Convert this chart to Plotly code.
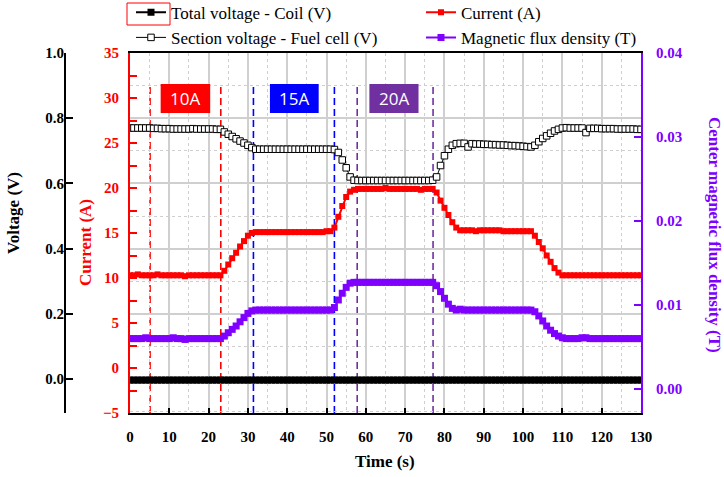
import plotly.graph_objects as go

# ---------------- data ----------------
TIME = list(range(0, 131))  # s, 1 s sampling

CURRENT = [
    10.3, 10.3, 10.4, 10.3, 10.3, 10.3, 10.3, 10.4, 10.3, 10.3, 10.3, 10.3, 10.3, 10.3, 10.2, 10.3, 10.3, 10.3, 10.3, 10.3, 10.3, 10.3, 10.3, 10.3,
    10.8, 11.5, 12.2, 12.8, 13.5, 14.1, 14.7, 15.0,
    15.1, 15.1, 15.1, 15.1, 15.1, 15.1, 15.1, 15.1, 15.1, 15.1, 15.1, 15.1, 15.1, 15.1, 15.1, 15.1, 15.1, 15.1, 15.2, 15.2,
    15.6, 16.8, 18.0, 19.0, 19.6, 19.8,
    19.9, 19.9, 19.9, 19.9, 19.9, 19.9, 19.9, 20.0, 19.9, 19.9, 19.9, 19.9, 19.9, 19.9, 19.9, 19.9, 19.8, 19.9, 19.9, 19.9,
    19.5, 18.6, 17.8, 17.0, 16.2, 15.6, 15.3,
    15.3, 15.3, 15.3, 15.2, 15.3, 15.3, 15.3, 15.3, 15.3, 15.3, 15.2, 15.2, 15.2, 15.2, 15.2, 15.2, 15.2, 15.2,
    14.7, 14.0, 13.3, 12.5, 11.8, 11.1, 10.6, 10.3,
    10.3, 10.3, 10.3, 10.3, 10.3, 10.3, 10.3, 10.3, 10.3, 10.3, 10.3, 10.3, 10.3, 10.3, 10.3, 10.3, 10.3, 10.3, 10.3, 10.3,
]

FLUX = [
    0.0060, 0.0060, 0.0060, 0.0060, 0.0061, 0.0060, 0.0060, 0.0060, 0.0060, 0.0060, 0.0060, 0.0061, 0.0060, 0.0060, 0.0059, 0.0060, 0.0060, 0.0060, 0.0060, 0.0060, 0.0060, 0.0060, 0.0060, 0.0060,
    0.0063, 0.0067, 0.0071, 0.0075, 0.0080, 0.0085, 0.0090, 0.0093,
    0.0094, 0.0094, 0.0094, 0.0094, 0.0094, 0.0094, 0.0094, 0.0094, 0.0094, 0.0094, 0.0094, 0.0094, 0.0094, 0.0094, 0.0094, 0.0094, 0.0094, 0.0094, 0.0094, 0.0094,
    0.0097, 0.0106, 0.0114, 0.0121, 0.0126,
    0.0127, 0.0127, 0.0127, 0.0127, 0.0127, 0.0127, 0.0127, 0.0127, 0.0127, 0.0127, 0.0127, 0.0127, 0.0127, 0.0127, 0.0127, 0.0127, 0.0127, 0.0127, 0.0127, 0.0127, 0.0127,
    0.0123, 0.0116, 0.0108, 0.0101, 0.0096, 0.0094,
    0.0095, 0.0094, 0.0094, 0.0094, 0.0094, 0.0094, 0.0094, 0.0094, 0.0094, 0.0094, 0.0094, 0.0094, 0.0094, 0.0094, 0.0094, 0.0094, 0.0094, 0.0094, 0.0094,
    0.0092, 0.0087, 0.0081, 0.0075, 0.0070, 0.0066, 0.0063, 0.0061,
    0.0060, 0.0060, 0.0060, 0.0060, 0.0061, 0.0061, 0.0060, 0.0060, 0.0060, 0.0060, 0.0060, 0.0060, 0.0060, 0.0060, 0.0060, 0.0060, 0.0060, 0.0060, 0.0060, 0.0060,
]

SECTION_V = [
    0.770, 0.770, 0.770, 0.770, 0.770, 0.770, 0.769, 0.769, 0.768, 0.768, 0.768, 0.767, 0.767, 0.767, 0.767, 0.767, 0.768, 0.767, 0.767, 0.767, 0.767, 0.767, 0.766, 0.766,
    0.758, 0.751, 0.744, 0.737, 0.730, 0.724, 0.717, 0.710, 0.705,
    0.705, 0.705, 0.705, 0.705, 0.705, 0.705, 0.705, 0.705, 0.705, 0.705, 0.705, 0.705, 0.705, 0.705, 0.705, 0.705, 0.705, 0.705, 0.705,
    0.704, 0.695, 0.672, 0.648, 0.620, 0.610,
    0.609, 0.609, 0.609, 0.609, 0.609, 0.609, 0.609, 0.609, 0.609, 0.609, 0.609, 0.609, 0.609, 0.609, 0.609, 0.609, 0.609, 0.609, 0.609, 0.610,
    0.620, 0.655, 0.685, 0.705, 0.717, 0.722, 0.723,
    0.723, 0.712, 0.722, 0.721, 0.721, 0.720, 0.720, 0.719, 0.719, 0.718, 0.718, 0.717, 0.716, 0.716, 0.715, 0.714, 0.713,
    0.712, 0.717, 0.728, 0.738, 0.746, 0.754, 0.761, 0.766, 0.770, 0.771,
    0.770, 0.770, 0.770, 0.770, 0.756, 0.769, 0.769, 0.769, 0.768, 0.768, 0.768, 0.768, 0.767, 0.767, 0.767, 0.767, 0.767, 0.766, 0.766,
]

TOTAL_V = [
    -0.003, -0.003, -0.003, -0.003, -0.003, -0.003, -0.003, -0.003, -0.003, -0.003, -0.003, -0.003, -0.003, -0.003, -0.003, -0.003, -0.003, -0.003, -0.003, -0.003,
    -0.003, -0.003, -0.003, -0.003, -0.003, -0.003, -0.003, -0.003, -0.003, -0.003, -0.003, -0.003, -0.003, -0.003, -0.003, -0.003, -0.003, -0.003, -0.003, -0.003,
    -0.003, -0.003, -0.003, -0.003, -0.003, -0.003, -0.003, -0.003, -0.003, -0.003, -0.003, -0.003, -0.003, -0.003, -0.003, -0.003, -0.003, -0.003, -0.003, -0.003,
    -0.003, -0.003, -0.003, -0.003, -0.003, -0.003, -0.003, -0.003, -0.003, -0.003, -0.003, -0.003, -0.003, -0.003, -0.003, -0.003, -0.003, -0.003, -0.003, -0.003,
    -0.003, -0.003, -0.003, -0.003, -0.003, -0.003, -0.003, -0.003, -0.003, -0.003, -0.003, -0.003, -0.003, -0.003, -0.003, -0.003, -0.003, -0.003, -0.003, -0.003,
    -0.003, -0.003, -0.003, -0.003, -0.003, -0.003, -0.003, -0.003, -0.003, -0.003, -0.003, -0.003, -0.003, -0.003, -0.003, -0.003, -0.003, -0.003, -0.003, -0.003,
    -0.003, -0.003, -0.003, -0.003, -0.003, -0.003, -0.003, -0.003, -0.003, -0.003, -0.003,
]

MARK_TIMES = [5.1, 23.1, 31.4, 52.0, 57.8, 77.1]
MARK_COLORS = ["#FF0000", "#FF0000", "#0000FF", "#0000FF", "#7030A0", "#7030A0"]
BOX_LABELS = ["10A", "15A", "20A"]
BOX_X = [(7.8, 20.4), (35.6, 48.0), (60.9, 73.4)]
BOX_COLORS = ["#FF0000", "#0000FF", "#7030A0"]

X_TICKS = list(range(0, 131, 10))

# ---------------- style ----------------
W, H = 724, 477
SERIF = "Liberation Serif"
RED = "#FF0000"
PURPLE = "#8000FF"
GRID = "#CFCFCF"

def px(v):
    return v / W

def py(v):
    return 1 - v / H

X_DOM = [px(130), px(641)]
Y_DOM = [py(413), py(53)]

fig = go.Figure()

fig.add_trace(go.Scatter(
    x=TIME, y=TOTAL_V, name="Total voltage - Coil (V)", yaxis="y", legend="legend",
    mode="lines+markers", line=dict(color="black", width=2),
    marker=dict(symbol="square", size=7, color="black"),
))
fig.add_trace(go.Scatter(
    x=TIME, y=CURRENT, name="Current (A)", yaxis="y2", legend="legend2",
    mode="lines+markers", line=dict(color=RED, width=2),
    marker=dict(symbol="square", size=6, color=RED),
))
fig.add_trace(go.Scatter(
    x=TIME, y=SECTION_V, name="Section voltage - Fuel cell (V)", yaxis="y", legend="legend",
    mode="lines+markers", line=dict(color="black", width=1),
    marker=dict(symbol="square", size=6.5, color="white", line=dict(color="black", width=1)),
))
fig.add_trace(go.Scatter(
    x=TIME, y=FLUX, name="Magnetic flux density (T)", yaxis="y3", legend="legend2",
    mode="lines+markers", line=dict(color=PURPLE, width=2),
    marker=dict(symbol="square", size=7, color=PURPLE),
))

shapes = []
for t, c in zip(MARK_TIMES, MARK_COLORS):
    shapes.append(dict(type="line", xref="x", yref="y domain", x0=t, x1=t,
                       y0=0, y1=(413 - 85) / 360, layer="below",
                       line=dict(color=c, width=1.6, dash="7px,4px")))
annotations = []
for lab, (a, b), c in zip(BOX_LABELS, BOX_X, BOX_COLORS):
    shapes.append(dict(type="rect", xref="x", yref="paper", x0=a, x1=b,
                       y0=py(113), y1=py(84), fillcolor=c, line=dict(width=0),
                       layer="above"))
    annotations.append(dict(xref="x", yref="paper", x=(a + b) / 2, y=py(98.5),
                            xanchor="center", yanchor="middle",
                            text=lab, showarrow=False,
                            font=dict(family="Open Sans", size=17, color="white")))
# selection frame around first legend symbol
shapes.append(dict(type="rect", xref="paper", yref="paper", x0=px(127), x1=px(170),
                   y0=py(25), y1=py(3), line=dict(color=RED, width=1)))

title_font = dict(family=SERIF, size=17)
annotations += [
    dict(xref="paper", yref="paper", x=px(13), y=py(213), text="<b>Voltage (V)</b>",
         xanchor="center", yanchor="middle",
         textangle=-90, showarrow=False, font=dict(color="black", **title_font)),
    dict(xref="paper", yref="paper", x=px(85), y=py(243), text="<b>Current (A)</b>",
         xanchor="center", yanchor="middle",
         textangle=-90, showarrow=False, font=dict(color=RED, **title_font)),
    dict(xref="paper", yref="paper", x=px(715), y=py(235),
         text="<b>Center magnetic flux density (T)</b>",
         xanchor="center", yanchor="middle",
         textangle=90, showarrow=False, font=dict(color=PURPLE, **title_font)),
    dict(xref="paper", yref="paper", x=px(385), y=py(461), text="<b>Time (s)</b>",
         xanchor="center", yanchor="middle",
         showarrow=False, font=dict(color="black", **title_font)),
]

tick_font = dict(family=SERIF, size=15, weight="bold")
legend_common = dict(orientation="v", xanchor="left", yanchor="top",
                     font=dict(family=SERIF, size=17, color="black"),
                     bgcolor="rgba(0,0,0,0)", borderwidth=0)

fig.update_layout(
    width=W, height=H,
    margin=dict(l=0, r=0, t=0, b=0, autoexpand=False),
    paper_bgcolor="white", plot_bgcolor="white",
    showlegend=True,
    legend=dict(x=px(131), y=1.011, **legend_common),
    legend2=dict(x=px(421), y=1.011, **legend_common),
    xaxis=dict(domain=X_DOM, range=[0, 130], tickvals=X_TICKS,
               ticks="inside", ticklen=5, tickwidth=1.5, tickcolor="black",
               showline=True, linecolor="black", linewidth=2, mirror=True,
               showgrid=True, gridcolor=GRID, gridwidth=1.5,
               minor=dict(dtick=5, tick0=0, showgrid=True, gridcolor=GRID,
                          griddash="3px,3px", gridwidth=1, ticks=""),
               tickfont=dict(color="black", **tick_font), ticklabelstandoff=9,
               zeroline=False, anchor="y2"),
    yaxis=dict(domain=Y_DOM, range=[-0.104, 1.0001], dtick=0.2, tick0=0,
               tickformat=".1f", anchor="free", position=px(65), side="left",
               ticks="inside", ticklen=7, tickwidth=1.5, tickcolor="black",
               showline=True, linecolor="black", linewidth=2,
               showgrid=True, gridcolor=GRID, gridwidth=1.5,
               minor=dict(dtick=0.1, tick0=0, showgrid=True, gridcolor=GRID,
                          griddash="3px,3px", gridwidth=1, ticks=""),
               tickfont=dict(color="black", **tick_font), ticklabelstandoff=-3,
               zeroline=False),
    yaxis2=dict(domain=Y_DOM, range=[-5, 35.001], dtick=5, tick0=0,
                overlaying="y", anchor="x", side="left",
                ticks="inside", ticklen=7, tickwidth=1.5, tickcolor=RED,
                minor=dict(dtick=2.5, tick0=0, ticks="inside", ticklen=7,
                           tickcolor=RED, tickwidth=1.5, showgrid=False),
                showline=True, linecolor=RED, linewidth=2, showgrid=False,
                tickfont=dict(color=RED, **tick_font), ticklabelstandoff=6,
                zeroline=False),
    yaxis3=dict(domain=Y_DOM, range=[-0.00286, 0.04001], dtick=0.01, tick0=0,
                tickformat=".2f", overlaying="y", anchor="x", side="right",
                ticks="inside", ticklen=7, tickwidth=1.5, tickcolor=PURPLE,
                showline=True, linecolor=PURPLE, linewidth=2, showgrid=False,
                tickfont=dict(color=PURPLE, **tick_font), ticklabelstandoff=10,
                zeroline=False),
    shapes=shapes,
    annotations=annotations,
)

fig.write_html("out.html")
